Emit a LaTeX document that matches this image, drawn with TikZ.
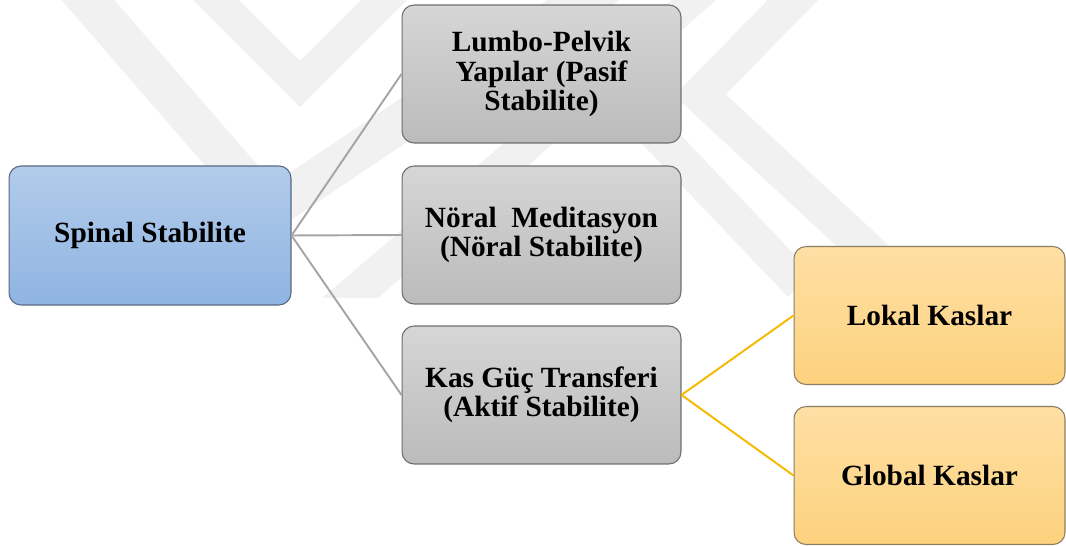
\documentclass[tikz,border=0pt]{standalone}
\usepackage{fontspec}
\setmainfont{Liberation Serif}
\definecolor{wmgray}{RGB}{241,241,241}
\definecolor{bluetop}{RGB}{178,204,234}
\definecolor{bluebot}{RGB}{143,180,226}
\definecolor{blueline}{RGB}{88,104,130}
\definecolor{graytop}{RGB}{214,214,214}
\definecolor{graybot}{RGB}{187,187,187}
\definecolor{grayline}{RGB}{110,110,110}
\definecolor{oratop}{RGB}{254,223,164}
\definecolor{orabot}{RGB}{253,210,126}
\definecolor{oraline}{RGB}{140,126,96}
\definecolor{linkgray}{RGB}{165,165,165}
\definecolor{linkgold}{RGB}{246,184,0}

\tikzset{
  box/.style={rounded corners=0.24cm, line width=0.6pt, inner sep=0pt,
    align=center, font=\fontsize{16.7}{16.6}\selectfont\bfseries},
  spinalbox/.style={box, draw=blueline, top color=bluetop, bottom color=bluebot,
    minimum width=5.64cm, minimum height=2.78cm},
  stabbox/.style={box, draw=grayline, top color=graytop, bottom color=graybot,
    minimum width=5.58cm, minimum height=2.76cm},
  kasbox/.style={box, draw=oraline, top color=oratop, bottom color=orabot,
    minimum width=5.42cm, minimum height=2.76cm},
  graylink/.style={draw=linkgray, line width=1.1pt},
  goldlink/.style={draw=linkgold, line width=1.1pt}
}

\begin{document}
\begin{tikzpicture}[x=0.02cm, y=-0.02cm]
\useasboundingbox (0,0) rectangle (1066,546);

% Watermark
\draw[wmgray, line width=0.8cm] (55,-38) -- (270,210) -- (610,-18);
\draw[wmgray, line width=0.66cm] (180,-36) -- (300,84) -- (420,-36);
\fill[wmgray] (322,298) -- (378,298) -- (716,0) -- (672,0) -- cycle;
\draw[wmgray, line width=0.72cm] (830,-38) -- (700,95) -- (905,285);
\draw[wmgray, line width=0.68cm] (600,75) -- (800,285);

% Boxes
\node[spinalbox] (spinal) at (150,235.5) {Spinal Stabilite};

\node[stabbox] (pasif) at (541.5,74) {Lumbo-Pelvik\\Yapılar (Pasif\\Stabilite)};
\node[stabbox] (noral) at (541.5,235) {Nöral\ \ Meditasyon\\(Nöral Stabilite)};
\node[stabbox] (aktif) at (541.5,395) {Kas Güç Transferi\\(Aktif Stabilite)};

\node[kasbox] (lokal) at (929.5,315.5) {Lokal Kaslar};
\node[kasbox] (global) at (929.5,475.5) {Global Kaslar};

% Links
\draw[graylink] (spinal.east) -- (pasif.west);
\draw[graylink] (spinal.east) -- (noral.west);
\draw[graylink] (spinal.east) -- (aktif.west);

\draw[goldlink] (aktif.east) -- (lokal.west);
\draw[goldlink] (aktif.east) -- (global.west);
\end{tikzpicture}
\end{document}
